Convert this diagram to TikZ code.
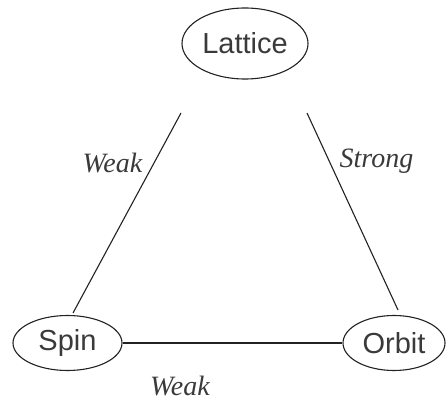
\documentclass[tikz,border=0pt]{standalone}
\usepackage{fontspec}
\setmainfont{Liberation Serif}
\newfontfamily\nodefont{Liberation Sans}
\usetikzlibrary{shapes.geometric}
\definecolor{ink}{HTML}{3A3A3A}
\definecolor{edge}{HTML}{222222}
\tikzset{
  phase/.style={ellipse, draw=edge, line width=1.1pt, text=ink, inner sep=0pt,
    font=\nodefont\fontsize{29}{29}\selectfont},
  coupling/.style={draw=edge, line width=1.1pt},
  strength/.style={text=ink, inner sep=0pt, anchor=base,
    font=\itshape\fontsize{28}{28}\selectfont}
}
\begin{document}
\begin{tikzpicture}[x=1pt,y=1pt]
  \useasboundingbox (0,0) rectangle (446,404);
  % the three degrees of freedom
  \node[phase, minimum width=126, minimum height=71] (lattice) at (245,360.5) {Lattice};
  \node[phase, minimum width=109, minimum height=55] (spin) at (67.5,61) {Spin};
  \node[phase, minimum width=102, minimum height=55] (orbit) at (394,61) {Orbit};
  % ends of the couplings to the lattice
  \coordinate (lsA) at (181,291);
  \coordinate (lsB) at (73,91);
  \coordinate (loA) at (307,291);
  \coordinate (loB) at (398,94);
  \draw[coupling] (lsA) -- (lsB);
  \draw[coupling] (loA) -- (loB);
  \draw[coupling] (spin) -- (orbit);
  % coupling strengths
  \node[strength] (wls) at (112.5,231) {Weak};
  \node[strength] (slo) at (376.5,236) {Strong};
  \node[strength] (wso) at (180,9) {Weak};
\end{tikzpicture}
\end{document}
